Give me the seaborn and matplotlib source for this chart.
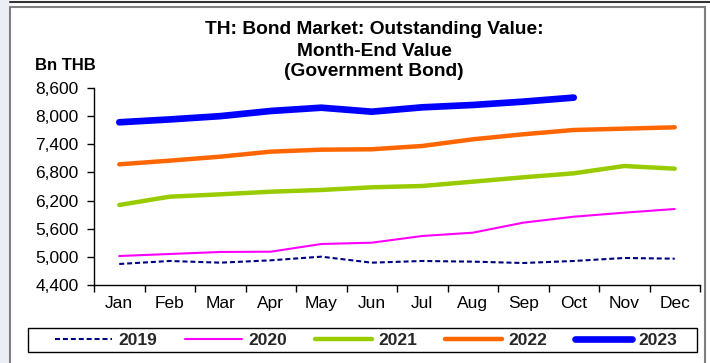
import matplotlib
matplotlib.use("Agg")
import matplotlib.pyplot as plt
import seaborn as sns
import pandas as pd
from matplotlib.patches import Rectangle
from matplotlib.lines import Line2D
from matplotlib.ticker import FuncFormatter, FixedLocator

# Outstanding government bond value, month-end, billion THB
months = ["Jan", "Feb", "Mar", "Apr", "May", "Jun",
          "Jul", "Aug", "Sep", "Oct", "Nov", "Dec"]
years = ["2019", "2020", "2021", "2022", "2023"]
v2019 = [4848, 4912, 4876, 4926, 5004, 4876, 4912, 4898, 4869, 4912, 4976, 4961]
v2020 = [5018, 5061, 5104, 5110, 5274, 5302, 5445, 5515, 5729, 5856, 5942, 6020]
v2021 = [6106, 6283, 6333, 6389, 6426, 6483, 6511, 6603, 6696, 6781, 6937, 6880]
v2022 = [6973, 7051, 7136, 7243, 7285, 7294, 7364, 7506, 7613, 7705, 7733, 7762]
v2023 = [7869, 7930, 8000, 8110, 8180, 8095, 8188, 8238, 8309, 8395]
yticks = [4400, 5000, 5600, 6200, 6800, 7400, 8000, 8600]

series = dict(zip(years, [v2019, v2020, v2021, v2022, v2023]))
rows = []
for yr, vals in series.items():
    for i, v in enumerate(vals):
        rows.append({"month": i, "value": v, "year": yr})
df = pd.DataFrame(rows)

palette = {"2019": "#000080", "2020": "#FF00FF", "2021": "#99CC00",
           "2022": "#FF6600", "2023": "#0000FF"}
widths = {"2019": 1.5, "2020": 1.5, "2021": 3.2, "2022": 3.2, "2023": 4.8}
dashes = {"2019": (2.4, 1.4), "2020": "", "2021": "", "2022": "", "2023": ""}

sns.set_theme(style="white")
plt.rcParams["font.family"] = ["Liberation Sans", "DejaVu Sans"]

W, H = 710, 363
fig = plt.figure(figsize=(W / 100, H / 100), dpi=100, facecolor="white")

# page decoration: side strip, panel frame and rule above it
fig.patches.append(Rectangle((0, 0), 9 / W, 1, transform=fig.transFigure,
                             facecolor="#eceef6", edgecolor="none", zorder=0))
fig.patches.append(Rectangle((10 / W, -0.1), 695 / W, (H - 7) / H + 0.1,
                             transform=fig.transFigure, fill=False,
                             edgecolor="#7f7f7f", lw=1.5, zorder=1))
fig.lines.append(Line2D([10 / W, 1], [1 - 1.5 / H] * 2, transform=fig.transFigure,
                        color="#333333", lw=1.5))

ax = fig.add_axes([94 / W, 1 - 285 / H, 606 / W, 197 / H])
ax.set_facecolor("none")

sns.lineplot(data=df, x="month", y="value", hue="year", style="year",
             size="year", hue_order=years, style_order=years, size_order=years,
             palette=palette, dashes=dashes, sizes=widths, legend=False,
             solid_capstyle="round", ax=ax)

ax.set_xlim(-0.5, 11.5)
ax.set_ylim(yticks[0], yticks[-1])
ax.set_yticks(yticks)
ax.yaxis.set_major_formatter(FuncFormatter(lambda v, p: f"{int(v):,}"))
ax.set_xticks(range(12))
ax.set_xticklabels(months)
ax.xaxis.set_minor_locator(FixedLocator([i - 0.5 for i in range(13)]))
ax.tick_params(axis="x", which="major", length=0, pad=8, labelsize=12.5, colors="black")
ax.tick_params(axis="x", which="minor", length=5, width=1, color="black", direction="out", bottom=True)
ax.tick_params(axis="y", length=5, width=1, color="black", direction="out", left=True,
               pad=6, labelsize=12.5, labelcolor="black")
ax.set_xlabel("")
ax.set_ylabel("")
for s in ["top", "right"]:
    ax.spines[s].set_visible(False)
for s in ["left", "bottom"]:
    ax.spines[s].set_color("black")
    ax.spines[s].set_linewidth(1)
ax.grid(False)

# title and unit label
for txt, yp in [("TH: Bond Market: Outstanding Value:", 30),
                ("Month-End Value", 51),
                ("(Government Bond)", 72)]:
    fig.text(374 / W, 1 - yp / H, txt, ha="center", va="center",
             fontsize=13.8, fontweight="bold", color="black")
fig.text(35 / W, 1 - 65 / H, "Bn THB", ha="left", va="center",
         fontsize=12, fontweight="bold", color="black")

# legend row with its own box
handles = ax.get_lines()[:len(years)]
fig.legend(handles, years, loc="center", bbox_to_anchor=(366 / W, 1 - 340 / H),
           ncol=5, frameon=False, handlelength=3.3, handletextpad=0.35,
           columnspacing=1.6, prop={"weight": "bold", "size": 12.5})
fig.patches.append(Rectangle((28 / W, 1 - 352 / H), 669 / W, 24 / H,
                             transform=fig.transFigure, fill=False,
                             edgecolor="black", lw=1, zorder=2))

fig.savefig("out.png", dpi=100)
